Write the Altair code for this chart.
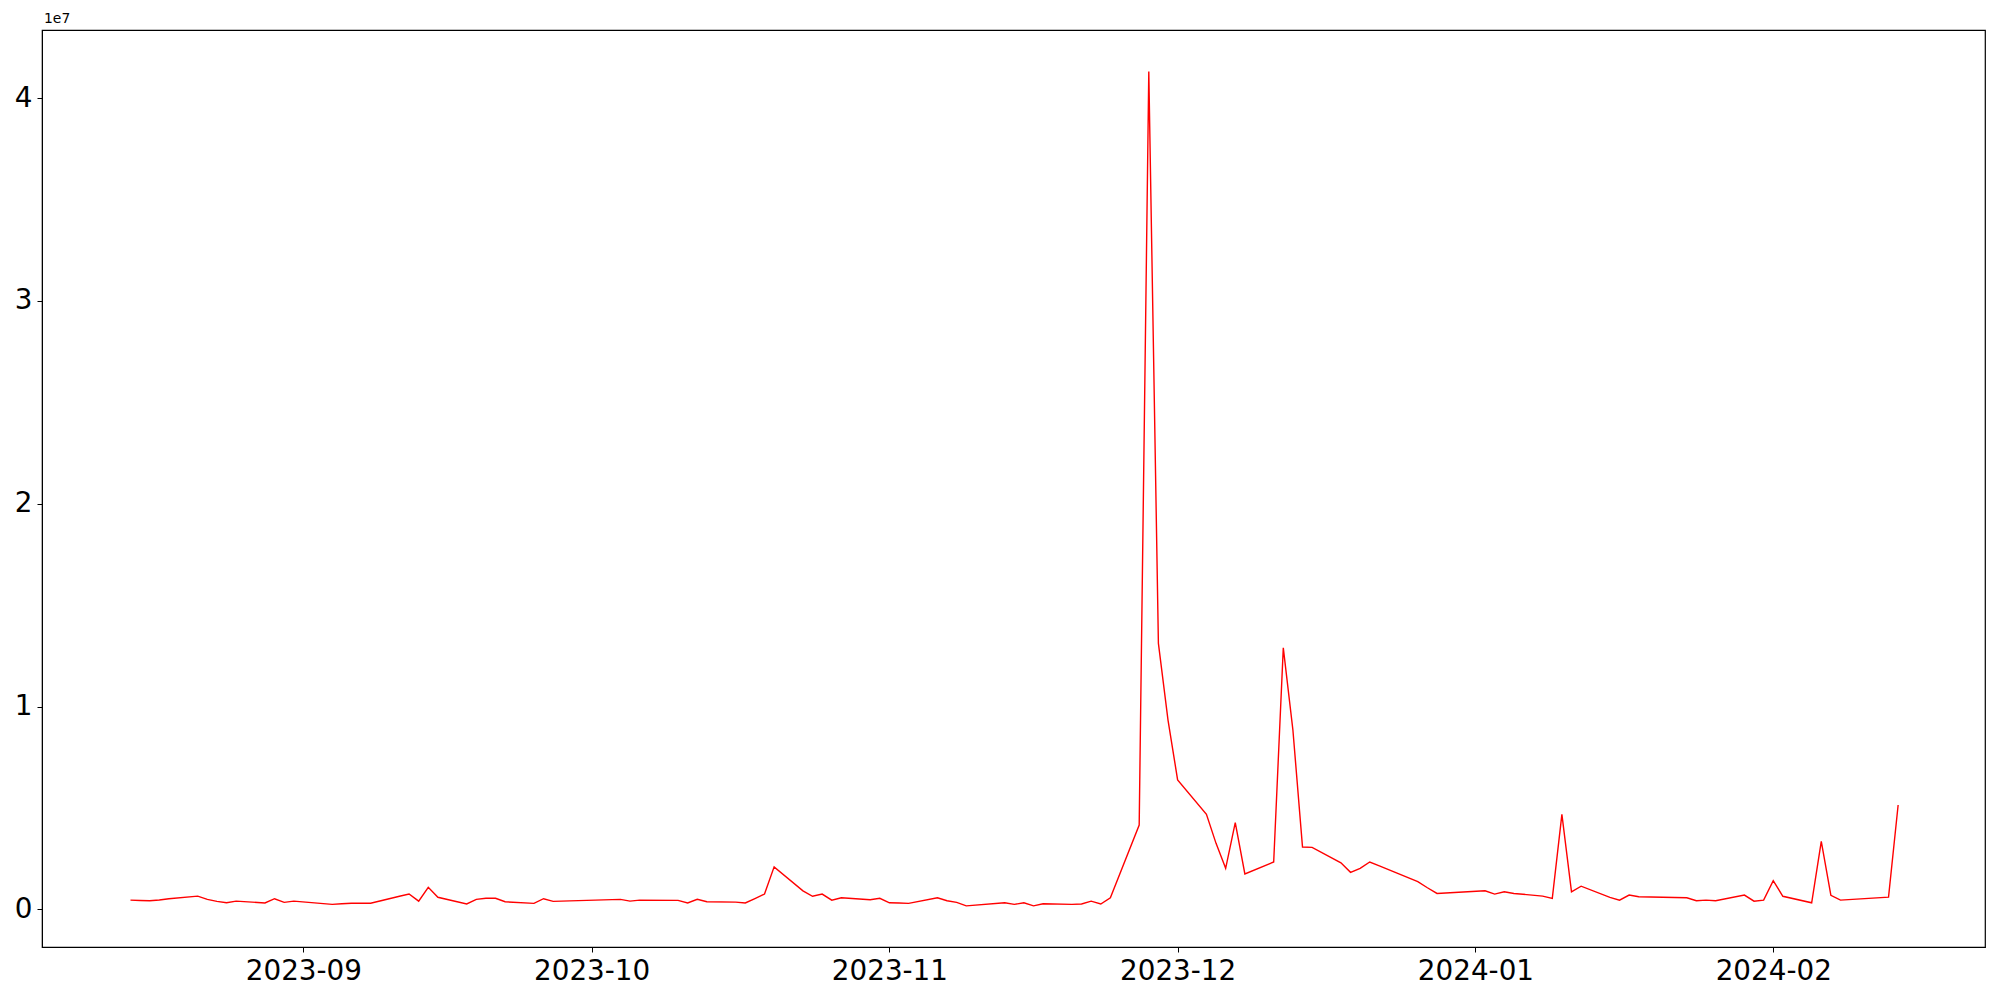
import altair as alt
import pandas as pd

dates = [
    "2023-08-14", "2023-08-15", "2023-08-16", "2023-08-17", "2023-08-18",
    "2023-08-21", "2023-08-22", "2023-08-23", "2023-08-24", "2023-08-25",
    "2023-08-28", "2023-08-29", "2023-08-30", "2023-08-31",
    "2023-09-04", "2023-09-05", "2023-09-06", "2023-09-07", "2023-09-08",
    "2023-09-11", "2023-09-12", "2023-09-13", "2023-09-14", "2023-09-15",
    "2023-09-18", "2023-09-19", "2023-09-20", "2023-09-21", "2023-09-22",
    "2023-09-25", "2023-09-26", "2023-09-27",
    "2023-10-04", "2023-10-05", "2023-10-06",
    "2023-10-10", "2023-10-11", "2023-10-12", "2023-10-13",
    "2023-10-16", "2023-10-17", "2023-10-18", "2023-10-19", "2023-10-20",
    "2023-10-23", "2023-10-24", "2023-10-25", "2023-10-26", "2023-10-27",
    "2023-10-30", "2023-10-31", "2023-11-01", "2023-11-02", "2023-11-03",
    "2023-11-06", "2023-11-07", "2023-11-08", "2023-11-09",
    "2023-11-13", "2023-11-14", "2023-11-15", "2023-11-16", "2023-11-17",
    "2023-11-20", "2023-11-21", "2023-11-22", "2023-11-23", "2023-11-24",
    "2023-11-27", "2023-11-28", "2023-11-29", "2023-11-30", "2023-12-01",
    "2023-12-04", "2023-12-05", "2023-12-06", "2023-12-07", "2023-12-08",
    "2023-12-11", "2023-12-12", "2023-12-13", "2023-12-14", "2023-12-15",
    "2023-12-18", "2023-12-19", "2023-12-20", "2023-12-21", "2023-12-22",
    "2023-12-26", "2023-12-27", "2023-12-28",
    "2024-01-02", "2024-01-03", "2024-01-04", "2024-01-05",
    "2024-01-08", "2024-01-09", "2024-01-10", "2024-01-11", "2024-01-12",
    "2024-01-15", "2024-01-16", "2024-01-17", "2024-01-18",
    "2024-01-23", "2024-01-24", "2024-01-25", "2024-01-26",
    "2024-01-29", "2024-01-30", "2024-01-31", "2024-02-01", "2024-02-02",
    "2024-02-05", "2024-02-06", "2024-02-07", "2024-02-08",
    "2024-02-13", "2024-02-14",
]

values = [
    460000, 440000, 430000, 470000, 530000,
    660000, 500000, 400000, 330000, 410000,
    320000, 530000, 350000, 410000,
    250000, 280000, 310000, 310000, 310000,
    650000, 760000, 410000, 1090000, 600000,
    270000, 500000, 550000, 550000, 380000,
    300000, 530000, 400000,
    500000, 410000, 460000,
    450000, 320000, 500000, 380000,
    360000, 320000, 540000, 760000, 2100000,
    920000, 650000, 760000, 460000, 580000,
    480000, 550000, 330000, 320000, 300000,
    580000, 430000, 350000, 180000,
    330000, 250000, 330000, 180000, 280000,
    250000, 270000, 410000, 270000, 580000,
    4160000, 41310000, 13120000, 9340000, 6390000,
    4690000, 3260000, 2030000, 4280000, 1750000,
    2340000, 12900000, 8850000, 3080000, 3060000,
    2300000, 1830000, 2030000, 2340000, 2150000,
    1370000, 1070000, 790000,
    920000, 760000, 870000, 790000,
    660000, 550000, 4690000, 870000, 1150000,
    600000, 460000, 710000, 630000,
    580000, 430000, 460000, 430000,
    710000, 410000, 460000, 1420000, 650000,
    330000, 3360000, 700000, 460000,
    610000, 5150000,
]

y_ticks = [0, 10000000, 20000000, 30000000, 40000000]
x_ticks = ["2023-09-01", "2023-10-01", "2023-11-01", "2023-12-01", "2024-01-01", "2024-02-01"]

df = pd.DataFrame({"date": dates, "value": values})

x_tick_ms = [int(pd.Timestamp(d, tz="UTC").value // 10**6) for d in x_ticks]
x_dom = [int(pd.Timestamp("2023-08-04T19:00", tz="UTC").value // 10**6),
         int(pd.Timestamp("2024-02-23T01:00", tz="UTC").value // 10**6)]

FONT = "DejaVu Sans"

chart = alt.Chart(df).mark_line(color="red", strokeWidth=1.4).encode(
    x=alt.X(
        "date:T",
        scale=alt.Scale(type="utc", domain=x_dom, nice=False),
        axis=alt.Axis(
            values=x_tick_ms,
            labelExpr="utcFormat(datum.value, '%Y-%m')",
            title=None,
            grid=False,
            tickSize=5,
            tickColor="black",
            domainColor="black",
            labelFontSize=27.8,
            labelFont=FONT,
            labelColor="black",
            labelPadding=5,
        ),
    ),
    y=alt.Y(
        "value:Q",
        scale=alt.Scale(domain=[-1850000, 43360000], nice=False, zero=False),
        axis=alt.Axis(
            values=y_ticks,
            labelExpr="format(datum.value / 10000000, 'd')",
            title=None,
            grid=False,
            tickSize=5,
            tickColor="black",
            domainColor="black",
            labelFontSize=27.8,
            labelFont=FONT,
            labelColor="black",
            labelPadding=5,
        ),
    ),
).properties(
    width=1943,
    height=917,
    autosize=alt.AutoSizeParams(type="none"),
    padding={"left": 34, "top": 22, "right": 5, "bottom": 44},
    title=alt.TitleParams(
        "1e7", anchor="start", frame="group", fontSize=13.9, fontWeight="normal",
        font=FONT, color="black", offset=4, dx=2,
    ),
).configure(background="white").configure_view(
    stroke="black", strokeWidth=1.2
)

chart.save("out.html", embed_options={"renderer": "svg", "actions": False})
